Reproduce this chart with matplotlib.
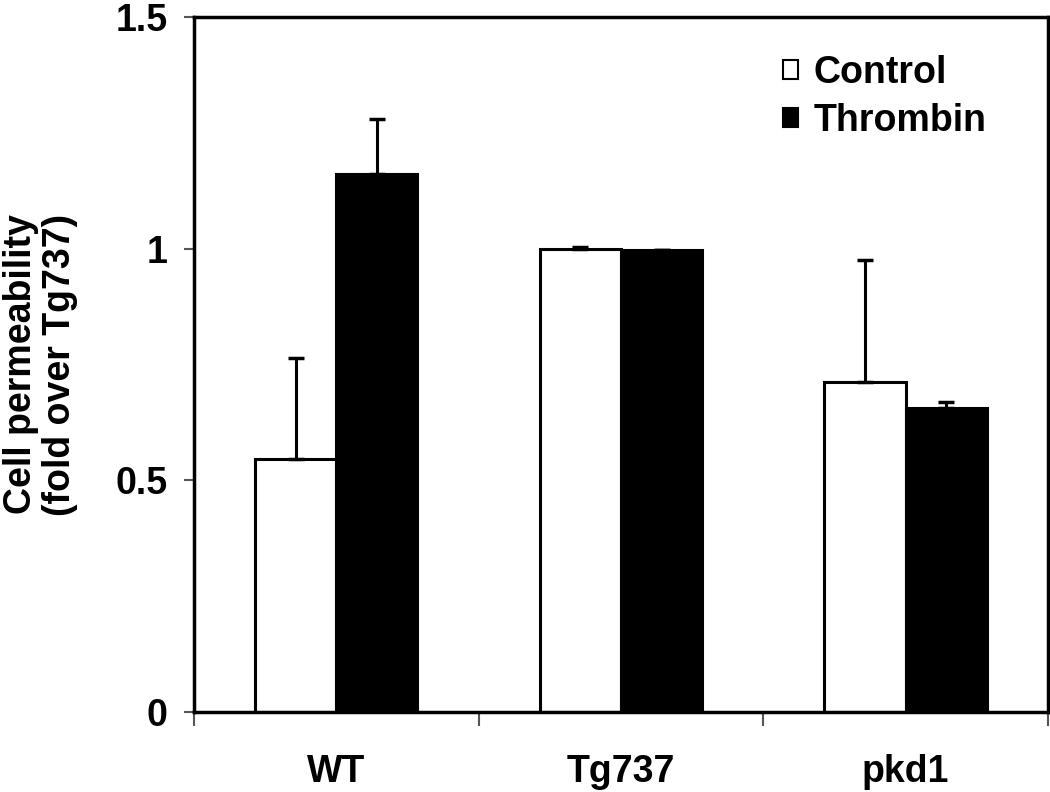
#!/usr/bin/env python3

# grouped bar chart, cell permeability (control vs thrombin)
import matplotlib
matplotlib.use('Agg')
import matplotlib.pyplot as plt
import numpy as np

plt.rcParams['font.family'] = ['Liberation Sans', 'DejaVu Sans']
plt.rcParams['font.weight'] = 'bold'

# data
categories = ['WT', 'Tg737', 'pkd1']
control = [0.545, 1.0, 0.713]
control_err = [0.218, 0.003, 0.263]
thrombin = [1.162, 0.998, 0.657]
thrombin_err = [0.118, 0.0, 0.013]
y_ticks = [0, 0.5, 1, 1.5]
y_tick_labels = ['0', '0.5', '1', '1.5']


def main():
    fig = plt.figure(figsize=(10.5, 7.92), dpi=100)
    ax = fig.add_axes([0.1848, 0.101, 0.8132, 0.8775])

    x = np.arange(len(categories))
    w = 0.285
    fs = 27

    err_kw = dict(ecolor='black', elinewidth=2.2, capsize=6, capthick=2.5)
    ax.bar(x - w / 2, control, w, color='white', edgecolor='black',
           linewidth=2.2, label='Control', zorder=2,
           yerr=[np.zeros(len(control)), control_err], error_kw=err_kw)
    ax.bar(x + w / 2, thrombin, w, color='black', edgecolor='black',
           linewidth=2.2, label='Thrombin', zorder=2,
           yerr=[np.zeros(len(thrombin)), thrombin_err], error_kw=err_kw)

    ax.set_xlim(-0.5, len(categories) - 0.5)
    ax.set_ylim(0, 1.5)

    # ticks between the groups, labels in the middle
    ax.set_xticks(np.arange(len(categories) + 1) - 0.5)
    ax.set_xticklabels([])
    ax.set_xticks(x, minor=True)
    ax.set_xticklabels(categories, minor=True, fontsize=fs, fontweight='bold')
    ax.tick_params(axis='x', which='major', direction='out', length=10,
                   width=1.5, color='#555555')
    ax.tick_params(axis='x', which='minor', length=0, pad=30)

    ax.set_yticks(y_ticks)
    ax.set_yticklabels(y_tick_labels, fontsize=fs, fontweight='bold')
    ax.tick_params(axis='y', direction='out', length=7, width=1.5,
                   color='#555555', pad=12)

    for s in ax.spines.values():
        s.set_linewidth(2.5)
        s.set_color('black')

    ax.set_ylabel('Cell permeability\n(fold over Tg737)', fontsize=fs,
                  fontweight='bold', labelpad=27, linespacing=1.12)

    leg = ax.legend(loc='upper left', bbox_to_anchor=(0.69, 0.945),
                    frameon=False, fontsize=fs, handlelength=0.4,
                    handleheight=0.4, handletextpad=0.4, labelspacing=0.3,
                    borderaxespad=0, borderpad=0)
    for t in leg.get_texts():
        t.set_fontweight('bold')
    for h in leg.legend_handles:
        h.set_linewidth(1.5)

    fig.savefig('out.png', dpi=100)


if __name__ == '__main__':
    main()
